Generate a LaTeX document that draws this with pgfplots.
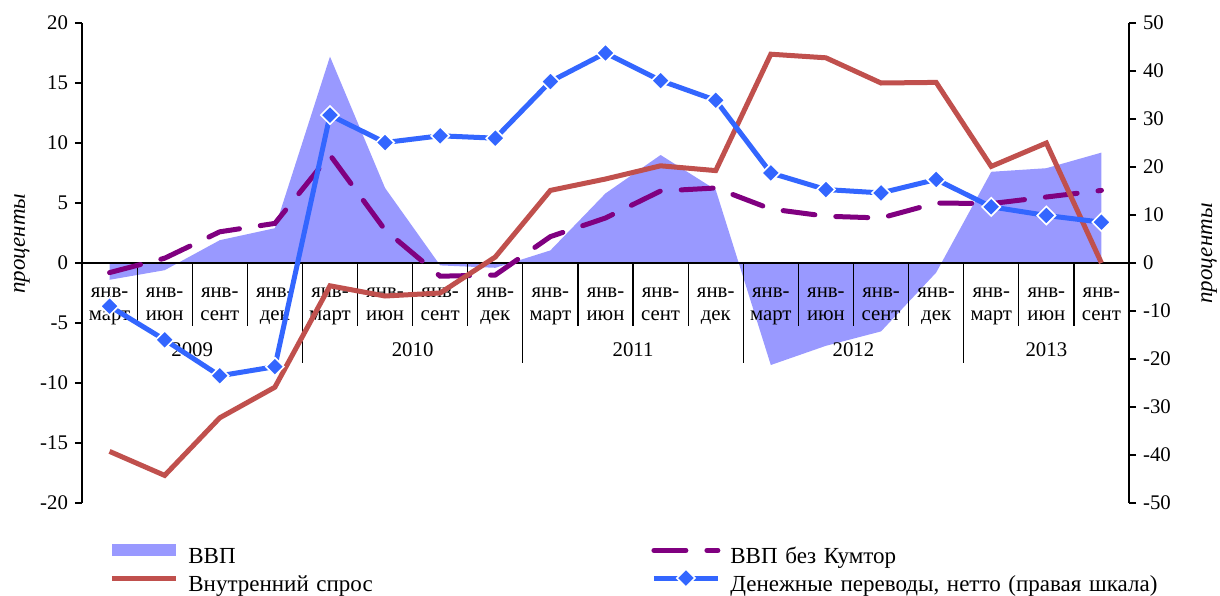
\documentclass[border=0pt]{standalone}
\usepackage{pgfplots}
\pgfplotsset{compat=1.18}
\usepackage{fontspec}
\setmainfont{Liberation Serif}
\definecolor{gdpc}{RGB}{153,153,255}
\definecolor{redc}{RGB}{192,80,77}
\definecolor{purc}{RGB}{128,0,128}
\definecolor{bluec}{RGB}{51,102,255}
\newcommand{\fs}{\fontsize{10.4pt}{11.5pt}\selectfont}
\newcommand{\fl}{\fontsize{11.5pt}{13pt}\selectfont}
\pgfplotsset{
  lineleg/.style={legend image code/.code={\draw[mark repeat=2,mark phase=2,##1] plot coordinates {(0pt,3.8pt)(16pt,3.8pt)(32pt,3.8pt)};}},
  blueline/.style={bluec, line width=2.5pt, mark=square*, mark size=3.2pt, mark options={rotate=45, fill=bluec, draw=white, line width=0.8pt, solid}},
}
\tikzset{
  cat/.style={font=\fs, align=center, anchor=north, inner sep=0pt, yshift=-12.1pt},
  yr/.style={font=\fs, anchor=base, yshift=-46.9pt},
  catsep/.style={line width=0.6pt},
}
\begin{document}
\begin{tikzpicture}
\path[use as bounding box] (0,0) rectangle (610pt,297.5pt);
\begin{axis}[
  at={(41pt,46pt)}, anchor=south west,
  scale only axis, width=523.5pt, height=240pt,
  xmin=-0.5, xmax=18.5, ymin=-20, ymax=20,
  axis y line*=left, axis x line=none,
  y axis line style={-, line width=0.6pt},
  ytick={-20,-15,...,20},
  xtick=\empty,
  yticklabel style={font=\fs},
  y tick style={line width=0.6pt, black},
  tick align=outside, major tick length=3.5pt,
  /pgf/number format/assume math mode=true,
  every axis y label/.style={at={(axis description cs:-0.0573,0.54)}, rotate=90, anchor=center, font=\fl\itshape},
  ylabel={проценты},
  clip=false,
  legend columns=2,
  legend cell align=left,
  legend style={draw=none, fill=none, at={(axis description cs:0,0)}, anchor=north west,
    xshift=13.5pt, yshift=-20.5pt, inner sep=0pt, row sep=-1pt, font=\fl,
    nodes={text height=8.3pt, text depth=2.7pt, inner sep=1pt, text width=220pt},
    /tikz/every odd column/.append style={column sep=4pt},
    /tikz/every even column/.append style={column sep=10.5pt}},
]
\addplot[fill=gdpc, draw=none, legend image code/.code={\fill[gdpc] (0pt,0.8pt) rectangle (32pt,6.8pt);}]
  coordinates {(0,-1.4)(1,-0.6)(2,1.9)(3,2.9)(4,17.2)(5,6.25)(6,-0.2)(7,-0.4)(8,1.05)(9,5.8)(10,9.0)(11,6.1)(12,-8.5)(13,-6.9)(14,-5.7)(15,-0.8)(16,7.6)(17,7.9)(18,9.2)} \closedcycle;
\addlegendentry{ВВП}
\draw[catsep] (axis cs:-0.5,0) -- (axis cs:18.5,0);
\draw[catsep] (axis cs:0.5,0) -- ++(0pt,-31.5pt);
\draw[catsep] (axis cs:1.5,0) -- ++(0pt,-31.5pt);
\draw[catsep] (axis cs:2.5,0) -- ++(0pt,-31.5pt);
\draw[catsep] (axis cs:3.5,0) -- ++(0pt,-50pt);
\draw[catsep] (axis cs:4.5,0) -- ++(0pt,-31.5pt);
\draw[catsep] (axis cs:5.5,0) -- ++(0pt,-31.5pt);
\draw[catsep] (axis cs:6.5,0) -- ++(0pt,-31.5pt);
\draw[catsep] (axis cs:7.5,0) -- ++(0pt,-50pt);
\draw[catsep] (axis cs:8.5,0) -- ++(0pt,-31.5pt);
\draw[catsep] (axis cs:9.5,0) -- ++(0pt,-31.5pt);
\draw[catsep] (axis cs:10.5,0) -- ++(0pt,-31.5pt);
\draw[catsep] (axis cs:11.5,0) -- ++(0pt,-50pt);
\draw[catsep] (axis cs:12.5,0) -- ++(0pt,-31.5pt);
\draw[catsep] (axis cs:13.5,0) -- ++(0pt,-31.5pt);
\draw[catsep] (axis cs:14.5,0) -- ++(0pt,-31.5pt);
\draw[catsep] (axis cs:15.5,0) -- ++(0pt,-50pt);
\draw[catsep] (axis cs:16.5,0) -- ++(0pt,-31.5pt);
\draw[catsep] (axis cs:17.5,0) -- ++(0pt,-31.5pt);
\node[cat] at (axis cs:0,0) {янв-\\март};
\node[cat] at (axis cs:1,0) {янв-\\июн};
\node[cat] at (axis cs:2,0) {янв-\\сент};
\node[cat] at (axis cs:3,0) {янв-\\дек};
\node[cat] at (axis cs:4,0) {янв-\\март};
\node[cat] at (axis cs:5,0) {янв-\\июн};
\node[cat] at (axis cs:6,0) {янв-\\сент};
\node[cat] at (axis cs:7,0) {янв-\\дек};
\node[cat] at (axis cs:8,0) {янв-\\март};
\node[cat] at (axis cs:9,0) {янв-\\июн};
\node[cat] at (axis cs:10,0) {янв-\\сент};
\node[cat] at (axis cs:11,0) {янв-\\дек};
\node[cat] at (axis cs:12,0) {янв-\\март};
\node[cat] at (axis cs:13,0) {янв-\\июн};
\node[cat] at (axis cs:14,0) {янв-\\сент};
\node[cat] at (axis cs:15,0) {янв-\\дек};
\node[cat] at (axis cs:16,0) {янв-\\март};
\node[cat] at (axis cs:17,0) {янв-\\июн};
\node[cat] at (axis cs:18,0) {янв-\\сент};
\node[yr] at (axis cs:1.5,0) {2009};
\node[yr] at (axis cs:5.5,0) {2010};
\node[yr] at (axis cs:9.5,0) {2011};
\node[yr] at (axis cs:13.5,0) {2012};
\node[yr] at (axis cs:17,0) {2013};
\addplot[purc, line width=2.5pt, dash pattern=on 16pt off 10.5pt, line cap=round, lineleg]
  coordinates {(0,-0.8)(1,0.4)(2,2.6)(3,3.3)(4,9.0)(5,2.75)(6,-1.1)(7,-1.0)(8,2.2)(9,3.75)(10,6.0)(11,6.25)(12,4.5)(13,3.9)(14,3.75)(15,5.0)(16,4.95)(17,5.5)(18,6.05)};
\addlegendentry{ВВП без Кумтор}
\addplot[redc, line width=2.5pt, lineleg]
  coordinates {(0,-15.7)(1,-17.7)(2,-12.9)(3,-10.35)(4,-1.9)(5,-2.75)(6,-2.5)(7,0.5)(8,6.05)(9,7.0)(10,8.1)(11,7.7)(12,17.4)(13,17.1)(14,15.0)(15,15.05)(16,8.05)(17,10.0)(18,0.0)};
\addlegendentry{Внутренний спрос}
\addlegendimage{blueline, lineleg}
\addlegendentry{Денежные переводы, нетто (правая шкала)}
\end{axis}
\begin{axis}[
  at={(41pt,46pt)}, anchor=south west,
  scale only axis, width=523.5pt, height=240pt,
  xmin=-0.5, xmax=18.5, ymin=-50, ymax=50,
  axis y line*=right, axis x line=none, xtick=\empty,
  y axis line style={-, line width=0.6pt},
  ytick={-50,-40,...,50},
  yticklabel style={font=\fs},
  y tick style={line width=0.6pt, black},
  tick align=outside, major tick length=3.5pt,
  /pgf/number format/assume math mode=true,
  every axis y label/.style={at={(axis description cs:1.0765,0.52)}, rotate=90, anchor=center, font=\fl\itshape},
  ylabel={проценты},
  clip=false,
]
\addplot[blueline]
  coordinates {(0,-9.0)(1,-16.0)(2,-23.5)(3,-21.6)(4,30.8)(5,25.1)(6,26.5)(7,26.0)(8,37.8)(9,43.75)(10,38.0)(11,33.9)(12,18.75)(13,15.3)(14,14.6)(15,17.4)(16,11.7)(17,9.9)(18,8.5)};
\end{axis}
\end{tikzpicture}
\end{document}
